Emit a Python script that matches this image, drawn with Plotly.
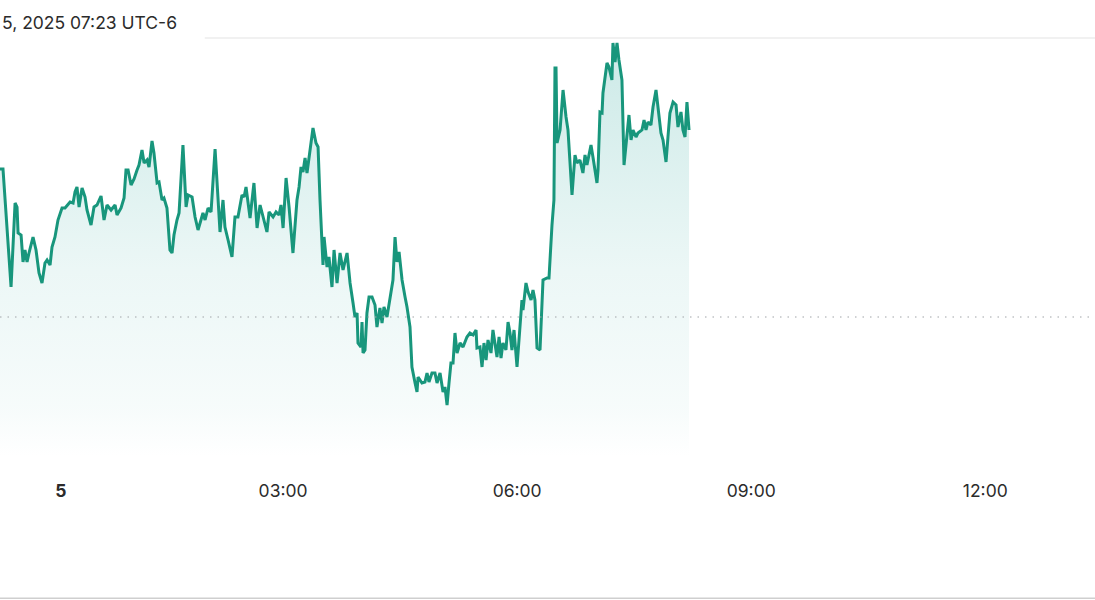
import plotly.graph_objects as go

# time in minutes after midnight (local UTC-6), day 5
minutes = [-39.2, -35.4, -29.2, -26.1, -24.6, -23.8, -21.5, -20.0, -18.5, -16.9,
           -15.4, -12.3, -10.0, -7.7, -5.4, -3.1, -1.5, 0.8, 2.3, 4.6,
           6.9, 10.0, 12.3, 16.2, 18.5, 20.0, 21.5, 23.1, 25.4, 27.7,
           29.2, 32.3, 34.6, 36.9, 40.0, 42.3, 44.6, 47.7, 50.8, 52.3,
           55.4, 57.7, 59.2, 60.8, 63.1, 65.4, 67.7, 69.2, 71.5, 73.1,
           75.4, 76.9, 79.2, 80.7, 83.1, 84.6, 86.9, 88.4, 90.7, 93.0,
           94.6, 96.1, 98.4, 100.0, 103.0, 105.4, 106.9, 110.0, 112.3, 114.6,
           118.4, 120.0, 122.3, 124.6, 127.7, 130.0, 131.5, 133.8, 135.3, 137.7,
           140.7, 143.0, 145.3, 148.4, 150.0, 151.5, 154.6, 157.6, 160.0, 162.3,
           164.6, 167.6, 169.2, 172.3, 174.6, 176.9, 178.4, 180.0, 182.3, 184.6,
           187.6, 190.7, 192.3, 193.8, 195.3, 196.9, 198.4, 199.9, 202.2, 203.0,
           205.3, 206.9, 208.4, 210.7, 211.5, 213.8, 215.3, 217.6, 219.2, 221.5,
           223.8, 226.1, 229.2, 231.5, 233.8, 235.3, 236.9, 237.6, 239.9, 240.7,
           241.5, 243.0, 244.5, 246.1, 248.4, 250.7, 252.2, 254.5, 256.1, 257.6,
           259.9, 262.2, 264.5, 266.1, 267.6, 269.2, 271.5, 273.8, 275.3, 277.6,
           279.1, 281.5, 283.0, 283.8, 286.8, 289.1, 290.7, 292.2, 294.5, 296.8,
           298.4, 300.7, 303.0, 304.5, 306.1, 307.6, 309.1, 310.7, 312.2, 313.8,
           316.1, 318.4, 321.4, 323.7, 326.1, 328.4, 329.1, 331.4, 333.0, 334.5,
           336.1, 337.6, 339.9, 341.4, 343.7, 344.5, 346.1, 347.6, 349.1, 351.4,
           353.0, 354.5, 356.0, 357.6, 359.9, 361.4, 363.7, 364.5, 366.8, 368.4,
           370.7, 372.2, 373.7, 375.3, 377.6, 379.9, 383.0, 384.5, 386.0, 386.8,
           388.3, 389.1, 389.9, 390.7, 393.0, 395.3, 397.6, 399.1, 402.2, 404.5,
           406.0, 408.3, 410.6, 412.2, 413.7, 416.8, 418.3, 421.4, 422.2, 423.7,
           425.3, 426.0, 429.1, 430.6, 432.9, 433.7, 435.3, 436.8, 438.3, 440.6,
           442.2, 444.5, 446.0, 447.6, 449.1, 451.4, 452.9, 456.0, 457.6, 459.1,
           460.6, 462.9, 464.5, 466.8, 468.3, 470.6, 472.2, 474.5, 476.0, 477.5,
           479.9, 482.2, 483.7, 486.0, 487.5, 489.1, 490.6, 492.2]

prices = [101.48, 101.48, 100.30, 101.14, 101.10, 100.84, 100.82, 100.55, 100.67, 100.55,
          100.64, 100.80, 100.67, 100.44, 100.34, 100.54, 100.57, 100.52, 100.70, 100.80,
          100.97, 101.09, 101.09, 101.15, 101.14, 101.25, 101.30, 101.10, 101.29, 101.20,
          101.07, 100.92, 101.10, 101.12, 101.21, 100.97, 101.12, 101.07, 101.12, 101.02,
          101.09, 101.19, 101.47, 101.47, 101.32, 101.38, 101.47, 101.52, 101.67, 101.54,
          101.57, 101.50, 101.76, 101.64, 101.34, 101.35, 101.17, 101.19, 101.09, 100.67,
          100.64, 100.82, 100.97, 101.04, 101.72, 101.10, 101.22, 101.20, 101.00, 100.87,
          101.04, 100.97, 101.09, 101.05, 101.68, 101.15, 100.85, 101.17, 100.90, 100.77,
          100.60, 101.00, 101.00, 101.22, 101.20, 101.30, 100.99, 101.34, 100.89, 101.12,
          101.00, 100.85, 101.05, 101.00, 101.05, 101.02, 101.12, 100.89, 101.39, 101.10,
          100.64, 101.17, 101.30, 101.50, 101.45, 101.59, 101.44, 101.60, 101.80, 101.89,
          101.74, 101.70, 101.17, 100.52, 100.80, 100.50, 100.60, 100.30, 100.67, 100.34,
          100.64, 100.47, 100.64, 100.34, 100.14, 100.00, 100.04, 99.74, 99.70, 99.95,
          99.64, 99.67, 100.04, 100.20, 100.20, 100.12, 99.90, 100.09, 99.94, 100.10,
          100.00, 100.20, 100.37, 100.80, 100.55, 100.65, 100.37, 100.20, 100.10, 99.90,
          99.50, 99.34, 99.25, 99.40, 99.34, 99.35, 99.44, 99.35, 99.44, 99.44,
          99.34, 99.44, 99.25, 99.30, 99.12, 99.34, 99.54, 99.54, 99.84, 99.64,
          99.74, 99.70, 99.80, 99.84, 99.82, 99.87, 99.69, 99.70, 99.50, 99.74,
          99.57, 99.77, 99.64, 99.87, 99.70, 99.60, 99.80, 99.59, 99.74, 99.67,
          99.95, 99.84, 99.67, 99.87, 99.50, 99.80, 100.17, 100.07, 100.34, 100.25,
          100.17, 100.27, 100.17, 99.69, 99.67, 100.37, 100.39, 100.39, 100.77, 100.92,
          101.17, 102.49, 102.49, 101.74, 101.87, 102.27, 102.00, 101.87, 101.22, 101.62,
          101.54, 101.57, 101.44, 101.62, 101.52, 101.72, 101.60, 101.34, 101.47, 102.05,
          102.04, 102.24, 102.54, 102.50, 102.37, 102.74, 102.55, 102.74, 102.57, 102.37,
          101.52, 101.80, 102.02, 101.77, 101.87, 101.80, 101.84, 101.87, 101.97, 101.87,
          101.95, 101.92, 102.10, 102.27, 102.07, 101.84, 101.77, 101.55, 101.80, 102.04,
          102.15, 102.12, 101.90, 102.05, 101.87, 101.80, 102.15, 101.87]

previous_close = 100.00
tick_minutes = [9, 180, 360, 540, 720]
tick_labels = ["<b>5</b>", "03:00", "06:00", "09:00", "12:00"]
header_text = "5, 2025 07:23 UTC-6"

assert len(minutes) == len(prices)

LINE = "#18967c"
FONT = "Inter, Roboto, 'Noto Sans', sans-serif"

fig = go.Figure()
fig.add_trace(go.Scatter(
    x=minutes, y=prices, mode="lines",
    line=dict(color=LINE, width=3),
    fill="tozeroy",
    fillgradient=dict(
        type="vertical",
        start=98.6, stop=102.8,
        colorscale=[[0, "rgba(40,165,155,0.0)"], [0.12, "rgba(40,165,155,0.04)"],
                     [0.45, "rgba(40,165,155,0.09)"], [1, "rgba(40,165,155,0.24)"]],
    ),
    hoverinfo="skip", showlegend=False,
))

fig.add_shape(type="line", xref="paper", x0=0, x1=1, yref="y",
              y0=previous_close, y1=previous_close,
              line=dict(color="#a0a4a8", width=1.2, dash="1.5px,6px"), layer="above")
# top border line
fig.add_shape(type="line", xref="paper", x0=0.187, x1=1, yref="paper", y0=1, y1=1,
              line=dict(color="#ececec", width=1.5))
# bottom frame line
fig.add_shape(type="line", xref="paper", x0=0, x1=1, yref="paper", y0=-0.2735, y1=-0.2735,
              line=dict(color="#cfcfcf", width=1.5))

fig.add_annotation(text=header_text, xref="paper", yref="paper", x=0, y=1.036,
                   xanchor="left", yanchor="middle", showarrow=False,
                   font=dict(family=FONT, size=17.5, color="#2b2b2b"))

fig.update_layout(
    width=1095, height=600,
    margin=dict(l=0, r=0, t=38, b=122),
    paper_bgcolor="white", plot_bgcolor="white",
    font=dict(family=FONT),
    xaxis=dict(range=[-37.7, 804.4], showgrid=False, zeroline=False, showline=False,
               tickmode="array", tickvals=tick_minutes, ticktext=tick_labels,
               ticks="", tickfont=dict(family=FONT, size=17.5, color="#2b2b2b"),
               fixedrange=True),
    yaxis=dict(range=[98.39, 102.79], showgrid=False, zeroline=False, showline=False,
               showticklabels=False, fixedrange=True),
)

fig.write_html("out.html", config={"displayModeBar": False},
               post_script="document.body.style.margin='0';document.body.style.overflow='hidden';")
